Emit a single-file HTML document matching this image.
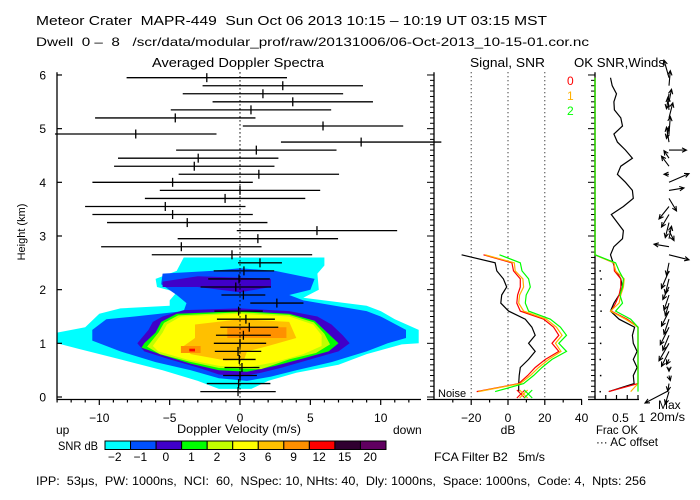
<!DOCTYPE html>
<html><head><meta charset="utf-8"><style>
html,body{margin:0;padding:0;background:#fff;}
svg{display:block;font-family:"Liberation Sans",sans-serif;}
text{white-space:pre;}
</style></head><body>
<svg id="chart" width="700" height="500" viewBox="0 0 700 500" xmlns="http://www.w3.org/2000/svg">
<rect x="0" y="0" width="700" height="500" fill="#fff"/>
<text x="36" y="25" font-size="13" textLength="511" lengthAdjust="spacingAndGlyphs">Meteor Crater  MAPR-449  Sun Oct 06 2013 10:15 – 10:19 UT 03:15 MST</text>
<text x="36" y="46" font-size="12" textLength="553" lengthAdjust="spacingAndGlyphs">Dwell  0 –  8   /scr/data/modular_prof/raw/20131006/06-Oct-2013_10-15-01.cor.nc</text>
<text x="152" y="67" font-size="13" textLength="172" lengthAdjust="spacingAndGlyphs">Averaged Doppler Spectra</text>
<text x="470" y="67" font-size="13" textLength="75" lengthAdjust="spacingAndGlyphs">Signal, SNR</text>
<text x="574" y="67" font-size="13" textLength="91" lengthAdjust="spacingAndGlyphs">OK SNR,Winds</text>
<text transform="translate(25,232) rotate(-90)" text-anchor="middle" font-size="11">Height (km)</text>
<g id="spec"></g>
<g id="snr"></g>
<g id="wind"></g>
<text x="177" y="433" font-size="12" textLength="124" lengthAdjust="spacingAndGlyphs">Doppler Velocity (m/s)</text>
<text x="56" y="434" font-size="12">up</text>
<text x="393" y="434" font-size="12">down</text>
<text x="58" y="450" font-size="12" textLength="40" lengthAdjust="spacingAndGlyphs">SNR dB</text>
<g id="cbar"></g>
<text x="508" y="434" font-size="12" text-anchor="middle">dB</text>
<text x="596" y="434" font-size="12" textLength="42" lengthAdjust="spacingAndGlyphs">Frac OK</text>
<text x="596" y="446" font-size="12" textLength="62" lengthAdjust="spacingAndGlyphs">··· AC offset</text>
<text x="434" y="461" font-size="12" textLength="111" lengthAdjust="spacingAndGlyphs">FCA Filter B2   5m/s</text>
<text x="658" y="409" font-size="12">Max</text>
<text x="650" y="421" font-size="12" textLength="35" lengthAdjust="spacingAndGlyphs">20m/s</text>
<text x="36" y="485" font-size="12" textLength="610" lengthAdjust="spacingAndGlyphs">IPP:  53μs,  PW: 1000ns,  NCI:  60,  NSpec: 10, NHts: 40,  Dly: 1000ns,  Space: 1000ns,  Code: 4,  Npts: 256</text>
</svg>
<script>
const gateHeights = [0.10,0.25,0.40,0.55,0.70,0.85,1.00,1.15,1.30,1.45,1.60,1.75,1.90,2.05,2.20,2.35,2.50,2.65,2.80,2.95,3.10,3.25,3.40,3.55,3.70,3.85,4.00,4.15,4.30,4.45,4.60,4.75,4.90,5.05,5.20,5.35,5.50,5.65,5.80,5.95];
const specCenter = [-0.14,-0.1,0,0.14,-0.05,-0.14,0,0.24,0.66,0.42,-0.1,2.62,0.24,-0.3,-0.07,0.28,1.42,-0.57,-4.17,1.27,5.47,-3.75,-4.79,-5.31,-1.06,0,-4.79,1.34,-3.25,-2.97,1.16,8.61,-7.41,5.90,-4.60,0.78,3.75,1.63,3.04,-2.36];
const specHalfWidth = [2.68,2.26,1.2,1.24,1.16,1.65,1.86,1.95,2.06,2.06,1.72,1.89,1.56,2.5,2.19,2.15,1.56,5.7,5.7,5.7,5.7,5.7,5.7,5.7,5.7,5.7,5.7,5.7,5.7,5.7,5.7,5.7,5.74,5.7,5.7,5.7,5.7,5.7,5.7,5.7];
const velTicks = [-10,-5,0,5,10];
const heightTicks = [0,1,2,3,4,5,6];
const levelColors = ['#00ffff','#0050ff','#4000c8','#00ff00','#c0ff00','#ffff00','#ffc000','#ff9000','#ff0000','#300030','#600060'];
const levelLabels = ['−2','−1','0','1','2','3','6','9','12','15','20'];
const contourCyan = [[-4.0,2.6],[6.0,2.6],[6.0,2.45],[5.5,2.3],[5.6,2.0],[4.5,1.85],[9.0,1.7],[10.0,1.6],[11.0,1.45],[12.7,1.25],[12.7,1.0],[11.5,0.98],[9.0,0.8],[7.0,0.6],[4.0,0.45],[2.0,0.3],[0.8,0.15],[-1.5,0.15],[-3.0,0.3],[-5.5,0.5],[-8.5,0.7],[-11.5,0.9],[-13,1.0],[-13,1.2],[-11,1.3],[-10,1.55],[-8.5,1.65],[-5,1.7],[-5,1.8],[-4.5,1.95],[-5.9,2.05],[-6.0,2.2],[-4.5,2.35]];
const contourBlue = [[-5.5,2.3],[-2,2.35],[0,2.4],[2.5,2.35],[5.3,2.2],[5.0,2.0],[3.5,1.9],[4.5,1.8],[9,1.6],[10,1.5],[11.8,1.25],[11.8,1.1],[10.5,1.0],[9,0.85],[6.5,0.65],[4,0.5],[2.2,0.38],[0.5,0.3],[-1.5,0.35],[-3.5,0.5],[-6,0.65],[-8.5,0.85],[-10.5,1.05],[-10.5,1.25],[-9.5,1.45],[-7.5,1.5],[-4,1.6],[-3.8,1.75],[-4.5,1.9],[-5.6,2.1]];
const contourPurple = [[-4,1.62],[0,1.65],[3.5,1.6],[5.5,1.5],[6.5,1.35],[7.3,1.15],[7.8,1.0],[7.0,0.85],[5.0,0.7],[3.0,0.55],[1.5,0.45],[0,0.38],[-1.5,0.42],[-3,0.55],[-5.0,0.7],[-6.8,0.85],[-7.3,1.0],[-6.5,1.25],[-6.2,1.4],[-5.5,1.5]];
const contourPurpleUpper = [[-5.5,2.15],[-3,2.25],[2.2,2.2],[2.2,2.05],[0,1.95],[-3,2.05],[-5.5,2.05]];
const contourGreen = [[-4.5,1.55],[0,1.6],[3.5,1.55],[5.3,1.42],[6.2,1.2],[7.0,1.0],[6.3,0.85],[4.5,0.72],[2.5,0.58],[0.5,0.47],[-1.5,0.5],[-3.5,0.62],[-5.5,0.78],[-7,0.92],[-6.8,1.0],[-6,1.2],[-5.6,1.4]];
const contourLime = [[-4.4,1.52],[0,1.58],[3.5,1.53],[5.25,1.39],[6.0,1.18],[6.4,0.98],[5.4,0.82],[3.5,0.7],[1.5,0.52],[-1.5,0.54],[-3.6,0.66],[-5.7,0.8],[-6.6,0.94],[-5.8,1.2],[-5.4,1.38]];
const contourYellow = [[-4.2,1.5],[0,1.55],[3.5,1.5],[5.2,1.35],[5.8,1.15],[5.8,0.95],[4.5,0.8],[2.5,0.65],[0.5,0.55],[-1.5,0.58],[-3.8,0.7],[-5.8,0.85],[-6.2,0.95],[-5.5,1.2],[-5.2,1.35]];
const contourLightOrange = [[-3.2,1.35],[0,1.45],[3.5,1.4],[4.0,1.1],[2.0,0.95],[0.5,0.85],[0.3,0.7],[-1,0.68],[-3.5,0.8],[-4,0.95],[-3.2,1.1]];
const contourOrangeA = [[-0.9,1.3],[3.3,1.3],[3.3,1.1],[-0.9,1.1]];
const contourOrangeB = [[-4.2,0.95],[-2.8,0.95],[-2.8,0.82],[-4.2,0.82]];
const contourRed = [[-3.6,0.9],[-3.2,0.9],[-3.2,0.85],[-3.6,0.85]];
// SNR panel (gates 0..17)
const signalDb = [5.8,5.8,6.1,6.7,11.2,14.8,11.2,14.8,13.0,9.4,0.3,-3.9,-3.4,-0.7,-2.5,-6.1,-7.0,-25.2];
const snrDb0 = [-17.0,5.8,10.7,14.8,20.3,27.6,23.9,27.6,24.8,19.4,6.7,4.8,5.2,6.7,6.7,3.0,2.1,-13.3];
const snrDb1 = [-16.1,6.7,12.1,16.7,22.1,28.8,25.8,29.4,26.3,20.8,8.5,5.8,6.3,8.5,8.1,3.9,3.4,-12.4];
const snrDb2 = [-7.0,8.5,13.9,18.5,23.9,31.8,27.6,31.8,28.5,23.0,11.2,9.4,9.9,12.1,11.2,7.6,6.7,-4.6];
const noiseMarkDb = [7,8.5,11];
const dbTicks = [-20,0,20,40];
// Frac OK panel (gates 0..39)
const okLine = [0.32,0.91,0.89,0.98,0.89,0.98,0.89,0.87,0.92,0.56,0.36,0.44,0.56,0.64,0.60,0.48,0.42,0.36,0.44,0.64,0.66,0.52,0.38,0.66,0.89,0.87,0.71,0.52,0.60,0.87,0.71,0.52,0.44,0.64,0.60,0.45,0.44,0.50,0.40,0.36];
const frac0 = [0.32,1,1,1,1,1,1,1,1,0.75,0.38,0.48,0.56,0.60,0.60,0.45,0.44,0,0,0,0,0,0,0,0,0,0,0,0,0,0,0,0,0,0,0,0,0,0,0];
const frac1 = [0.83,1,1,1,1,1,1,1,1,0.71,0.36,0.56,0.60,0.66,0.68,0.48,0.44,0,0,0,0,0,0,0,0,0,0,0,0,0,0,0,0,0,0,0,0,0,0,0];
const frac2 = [1,1,1,1,1,1,1,1,1,0.83,0.48,0.64,0.58,0.64,0.66,0.56,0.48,0,0,0,0,0,0,0,0,0,0,0,0,0,0,0,0,0,0,0,0,0,0,0];
const acOffset = [0.12,null,0.13,null,0.12,null,0.13,null,0.12,null,0.14,null,0.12,null,0.14,0.12,null,null,null,null,null,null,null,null,null,null,null,null,null,null,null,null,null,null,null,null,null,null,null,null];
const windU = [-3,-1,1,0,-2,-6,-8,-5,-7,-4,-6,-3,-4,-5,-3,-6,-2,16,-12,2,4,-3,-6,-8,6,12,16,-4,-6,-4,14,-2,1,-2,3,-1,2,-2,1,-4];
const windV = [-10,-6,-4,-3,-4,-12,-14,-12,-14,-12,-12,-10,-12,-10,-12,-14,-10,-4,2,10,-8,-12,-10,-10,-10,2,7,0,8,6,0,12,14,-10,12,10,10,-12,12,14];
const fracTicks = [0.5,1];

const NS='http://www.w3.org/2000/svg';
function mk(parent,tag,attrs){const e=document.createElementNS(NS,tag);for(const k in attrs)e.setAttribute(k,attrs[k]);parent.appendChild(e);return e;}
const yH = h => 397 - 53.67*h;
const xV = v => 240 + 14.07*v;
const xDb = d => 508 + 1.84*d;
const xF = f => 595 + 43*f;

// ---- spectra panel
const spec=document.getElementById('spec');
const contours=[[contourCyan,0],[contourBlue,1],[contourPurple,2],[contourPurpleUpper,2],[contourGreen,3],[contourLime,4],[contourYellow,5],[contourLightOrange,6],[contourOrangeA,7],[contourOrangeB,7],[contourRed,8]];
contours.forEach(([pts,lvl])=>{
  const p=mk(spec,'path',{d:'M'+pts.map(q=>xV(q[0]).toFixed(1)+','+yH(q[1]).toFixed(1)).join('L')+'Z',fill:levelColors[lvl]});
  
  
});
const zl=mk(spec,'line',{x1:xV(0),y1:yH(6.05),x2:xV(0),y2:399,stroke:'#000','stroke-width':1.2,'stroke-dasharray':'1.2,2.8'});


gateHeights.forEach((h,i)=>{
  const y=yH(h), c=specCenter[i], w=specHalfWidth[i];
  const b=mk(spec,'line',{x1:xV(c-w),y1:y,x2:xV(c+w),y2:y,stroke:'#000','stroke-width':1.3});
  
  
  const t=mk(spec,'line',{x1:xV(c),y1:y-4.5,x2:xV(c),y2:y+4.5,stroke:'#000','stroke-width':1.3});
  
  
});
const ax=mk(spec,'path',{d:'M57,'+yH(6.05)+'V399.5H421',stroke:'#000',fill:'none','stroke-width':1.3});


for(let v=-13;v<=12;v++){
  const maj=v%5===0;
  const tk=mk(spec,'line',{x1:xV(v),y1:399.5,x2:xV(v),y2:maj?405:402.5,stroke:'#000','stroke-width':1.2});
  
  
}
velTicks.forEach(v=>{
  const t=mk(spec,'text',{x:xV(v),y:422,'font-size':12,'text-anchor':'middle'});
  t.textContent=v<0?'−'+(-v):String(v);
  
  
});
heightTicks.forEach(h=>{
  const tk=mk(spec,'line',{x1:57,y1:yH(h),x2:62,y2:yH(h),stroke:'#000','stroke-width':1.2});
  
  
  const t=mk(spec,'text',{x:46,y:yH(h)+4.5,'font-size':12,'text-anchor':'end'});
  t.textContent=String(h);
  
  
});

// ---- SNR panel
const snr=document.getElementById('snr');
function vAxis(g,x,name){
  const a=mk(g,'line',{x1:x,y1:yH(6.05),x2:x,y2:399.5,stroke:'#000','stroke-width':1.3});
  
  
  for(let k=0;k<=60;k++){
    const maj=k%10===0;
    const tk=mk(g,'line',{x1:x-(maj?7:4),y1:yH(k/10),x2:x,y2:yH(k/10),stroke:'#000','stroke-width':1});
    
    
  }
}
vAxis(snr,434,'snr-height-axis');
const sb=mk(snr,'line',{x1:427,y1:399.5,x2:582,y2:399.5,stroke:'#000','stroke-width':1.3});


for(let d=-30;d<=40;d+=10){
  const tk=mk(snr,'line',{x1:xDb(d),y1:399.5,x2:xDb(d),y2:d%20===0?405:402.5,stroke:'#000','stroke-width':1.2});
  
  
}
dbTicks.forEach(d=>{
  if(d<40){
    const g=mk(snr,'line',{x1:xDb(d),y1:yH(6.05),x2:xDb(d),y2:399,stroke:'#000','stroke-width':1,'stroke-dasharray':'1,3'});
    
    
  }
  const t=mk(snr,'text',{x:xDb(d),y:422,'font-size':12,'text-anchor':'middle'});
  t.textContent=d<0?'−'+(-d):String(d);
  
  
});
const nz=mk(snr,'text',{x:438,y:397,'font-size':11});
nz.textContent='Noise';


function line(g,arr,xf,color,name){
  let d='';
  arr.forEach((v,i)=>{ if(v===null)return; d+=(d?'L':'M')+xf(v).toFixed(1)+','+yH(gateHeights[i]).toFixed(1);});
  const p=mk(g,'path',{d:d,fill:'none',stroke:color,'stroke-width':1.2});
  
  
}
line(snr,signalDb,xDb,'#000','signal-line');
line(snr,snrDb0,xDb,'#ff0000','snr-line-0');
line(snr,snrDb1,xDb,'#ffb000','snr-line-1');
line(snr,snrDb2,xDb,'#00ff00','snr-line-2');
['#ff0000','#ffb000','#00ff00'].forEach((c,i)=>{
  const x=xDb(noiseMarkDb[i]), y=394;
  const m=mk(snr,'path',{d:`M${x-4},${y-4}L${x+4},${y+4}M${x-4},${y+4}L${x+4},${y-4}`,stroke:c,'stroke-width':1.2,fill:'none'});
  
  
});
[['0','#ff0000',85],['1','#ffb000',100],['2','#00ff00',115]].forEach(([s,c,y])=>{
  const t=mk(snr,'text',{x:567,y:y,'font-size':12,fill:c});
  t.textContent=s;
  
  
});

// ---- winds panel
const wind=document.getElementById('wind');
vAxis(wind,595,'frac-height-axis');
const wb=mk(wind,'line',{x1:588,y1:399.5,x2:639,y2:399.5,stroke:'#000','stroke-width':1.3});


for(let f=0;f<=1.001;f+=0.25){
  const tk=mk(wind,'line',{x1:xF(f),y1:399.5,x2:xF(f),y2:395,stroke:'#000','stroke-width':1.2});
  
  
}
fracTicks.forEach(f=>{
  const t=mk(wind,'text',{x:xF(f)+4,y:422,'font-size':12,'text-anchor':'middle'});
  t.textContent=String(f);
  
  
});
line(wind,okLine,xF,'#000','ok-snr-line');
line(wind,frac0,xF,'#ff0000','frac-ok-line-0');
line(wind,frac1,xF,'#ffb000','frac-ok-line-1');
line(wind,frac2,xF,'#00ff00','frac-ok-line-2');
acOffset.forEach((f,i)=>{
  if(f===null)return;
  const d=mk(wind,'rect',{x:xF(f)-0.7,y:yH(gateHeights[i])-0.7,width:1.5,height:1.5,fill:'#000'});
  
  
});
function arrow(g,x0,y0,x1,y1,name){
  const a=Math.atan2(y1-y0,x1-x0), L=5, s=0.45;
  const d=`M${x0.toFixed(1)},${y0.toFixed(1)}L${x1.toFixed(1)},${y1.toFixed(1)}M${(x1-L*Math.cos(a-s)).toFixed(1)},${(y1-L*Math.sin(a-s)).toFixed(1)}L${x1.toFixed(1)},${y1.toFixed(1)}L${(x1-L*Math.cos(a+s)).toFixed(1)},${(y1-L*Math.sin(a+s)).toFixed(1)}`;
  const p=mk(g,'path',{d:d,stroke:'#000','stroke-width':1.1,fill:'none'});
  
  
}
const windScale=1.25;
gateHeights.forEach((h,i)=>{
  const x0=669, y0=yH(h);
  arrow(wind,x0,y0,x0+windU[i]*windScale,y0-windV[i]*windScale,'wind-vector');
});
arrow(wind,668,391,645,403,'max-wind-arrow');

// ---- colorbar
const cb=document.getElementById('cbar');
levelColors.forEach((c,i)=>{
  const w=(386-105)/levelColors.length, x=105+i*w;
  const r=mk(cb,'rect',{x:x,y:441,width:w,height:8.5,fill:c,stroke:'#000','stroke-width':1});
  
  
  const t=mk(cb,'text',{x:x+w/2-3,y:461,'font-size':12,'text-anchor':'middle'});
  t.textContent=levelLabels[i];
  
  
});
</script>
</body></html>
